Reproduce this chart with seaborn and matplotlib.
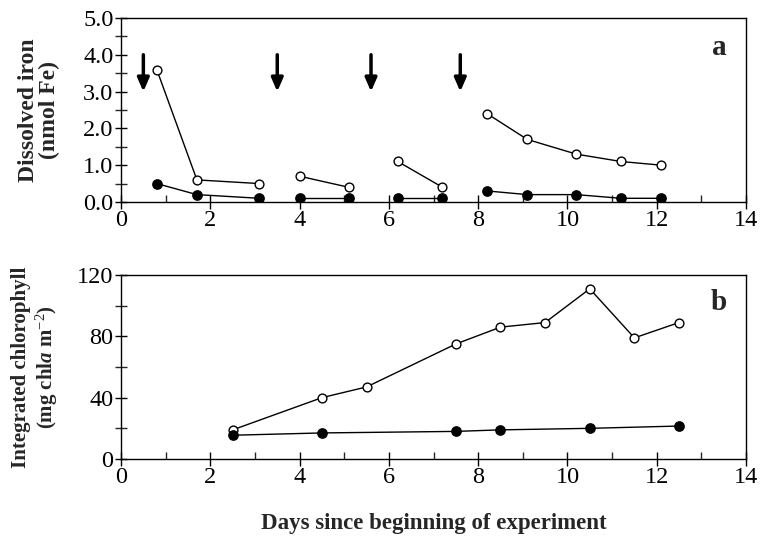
import pandas as pd
import matplotlib.pyplot as plt
import seaborn as sns
from matplotlib.ticker import MultipleLocator, FormatStrFormatter

# panel a: dissolved iron, separate segments between additions
fe_days = [0.8, 1.7, 3.1, 4.0, 5.1, 6.2, 7.2, 8.2, 9.1, 10.2, 11.2, 12.1]
fe_segment = [1, 1, 1, 2, 2, 3, 3, 4, 4, 4, 4, 4]
fe_enriched = [3.6, 0.6, 0.5, 0.7, 0.4, 1.1, 0.4, 2.4, 1.7, 1.3, 1.1, 1.0]
fe_control = [0.5, 0.2, 0.1, 0.1, 0.1, 0.1, 0.1, 0.3, 0.2, 0.2, 0.1, 0.1]
arrow_days = [0.5, 3.5, 5.6, 7.6]

# panel b: integrated chlorophyll
chl_days_enr = [2.5, 4.5, 5.5, 7.5, 8.5, 9.5, 10.5, 11.5, 12.5]
chl_enriched = [19, 40, 47, 75, 86, 89, 111, 79, 89]
chl_days_ctl = [2.5, 4.5, 7.5, 8.5, 10.5, 12.5]
chl_control = [15.5, 17, 18, 19, 20, 21.5]

sns.set_style("ticks")
plt.rcParams['font.family'] = ['Liberation Serif', 'DejaVu Serif']
plt.rcParams['mathtext.fontset'] = 'custom'
plt.rcParams['mathtext.rm'] = 'Liberation Serif'
plt.rcParams['mathtext.it'] = 'Liberation Serif:italic:bold'
plt.rcParams['mathtext.bf'] = 'Liberation Serif:bold'

fig = plt.figure(figsize=(7.67, 5.45), dpi=100)
ax1 = fig.add_axes([0.1578, 0.6294, 0.8148, 0.3376])
ax2 = fig.add_axes([0.1578, 0.1578, 0.8148, 0.3376])

fe = pd.DataFrame({'day': fe_days, 'seg': fe_segment,
                   'enriched': fe_enriched, 'control': fe_control})


def draw(ax, df, col, filled, units=None):
    sns.lineplot(data=df, x='day', y=col, units=units, estimator=None,
                 color='black', lw=1.0, ax=ax, legend=False)
    sns.scatterplot(data=df, x='day', y=col, ax=ax, s=45 if filled else 40,
                    color='black' if filled else 'white',
                    edgecolor='black', linewidth=1.0, zorder=3, legend=False)


draw(ax1, fe, 'enriched', False, units='seg')
draw(ax1, fe, 'control', True, units='seg')

for d in arrow_days:
    ax1.annotate('', xy=(d, 3.0), xytext=(d, 4.0),
                 arrowprops=dict(arrowstyle='-|>,head_width=0.35,head_length=0.8',
                                 lw=2.5, color='black', shrinkA=0, shrinkB=0))

chl_e = pd.DataFrame({'day': chl_days_enr, 'chl': chl_enriched})
chl_c = pd.DataFrame({'day': chl_days_ctl, 'chl': chl_control})
draw(ax2, chl_e, 'chl', False)
draw(ax2, chl_c, 'chl', True)

ax1.yaxis.set_major_locator(MultipleLocator(1))
ax1.yaxis.set_minor_locator(MultipleLocator(0.5))
ax1.yaxis.set_major_formatter(FormatStrFormatter('%.1f'))
ax1.set_ylim(0, 5)
ax2.yaxis.set_major_locator(MultipleLocator(40))
ax2.yaxis.set_minor_locator(MultipleLocator(20))
ax2.set_ylim(0, 120)

for ax in (ax1, ax2):
    ax.set_xlim(0, 14)
    ax.xaxis.set_major_locator(MultipleLocator(2))
    ax.xaxis.set_minor_locator(MultipleLocator(1))
    for s in ax.spines.values():
        s.set_visible(True)
        s.set_linewidth(1.0)
        s.set_color('black')
    ax.tick_params(axis='x', which='major', direction='inout', length=10,
                   width=1.0, labelsize=17.5, pad=1, colors='black')
    ax.tick_params(axis='x', which='minor', direction='in', length=5, width=1.0)
    ax.tick_params(axis='y', which='major', direction='inout', length=9,
                   width=1.0, labelsize=17.5, pad=1, colors='black')
    ax.tick_params(axis='y', which='minor', direction='inout', length=8, width=1.0)
    ax.set_xlabel('')

ax1.set_ylabel('Dissolved iron\n(nmol Fe)', fontsize=17, fontweight='bold',
               linespacing=1.0)
ax2.set_ylabel('Integrated chlorophyll\n(mg chl$a$ m$^{-2}$)', fontsize=15,
               fontweight='bold', linespacing=1.15)
ax1.yaxis.set_label_coords(-0.098, 0.5)
ax2.yaxis.set_label_coords(-0.098, 0.5)

ax1.text(13.4, 4.2, 'a', fontsize=21, fontweight='bold', ha='center', va='center')
ax2.text(13.4, 102, 'b', fontsize=21, fontweight='bold', ha='center', va='center')

fig.text(0.565, 0.04, 'Days since beginning of experiment', fontsize=16.5,
         fontweight='bold', ha='center', va='center')

fig.savefig('out.png', dpi=100)
